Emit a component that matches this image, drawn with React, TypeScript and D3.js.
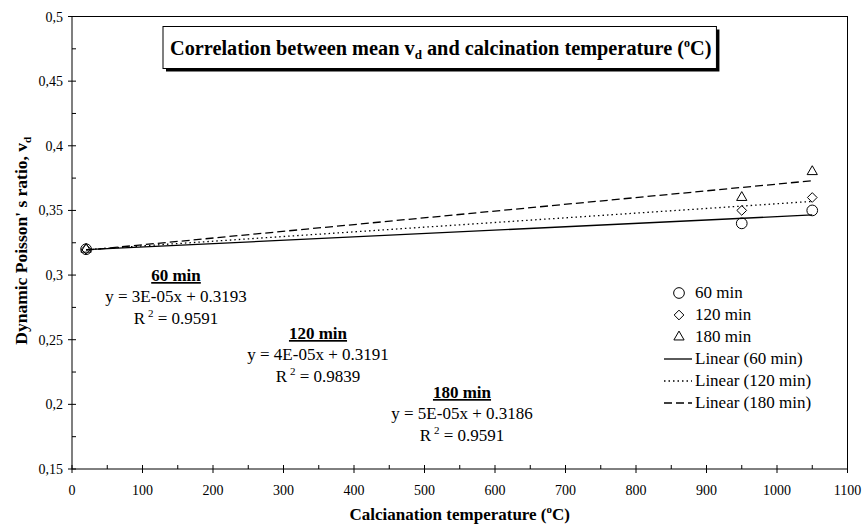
import React, { useEffect, useRef } from "react";
import * as d3 from "d3";

// data
const temperatures = [20, 950, 1050];
const values60 = [0.32, 0.34, 0.35];
const values120 = [0.32, 0.35, 0.36];
const values180 = [0.32, 0.36, 0.38];
const seriesNames = ["60 min", "120 min", "180 min"];
const equations = ["y = 3E-05x + 0.3193", "y = 4E-05x + 0.3191", "y = 5E-05x + 0.3186"];
const rSquared = ["0.9591", "0.9839", "0.9591"];
const xTickValues = [0, 100, 200, 300, 400, 500, 600, 700, 800, 900, 1000, 1100];
const yTickValues = [0.15, 0.2, 0.25, 0.3, 0.35, 0.4, 0.45, 0.5];
const yTickLabels = ["0,15", "0,2", "0,25", "0,3", "0,35", "0,4", "0,45", "0,5"];

const FONT = "Liberation Serif, Times New Roman, serif";

function linearFit(xs: number[], ys: number[]) {
  const mx = d3.mean(xs)!, my = d3.mean(ys)!;
  let sxy = 0, sxx = 0;
  xs.forEach((x, i) => { sxy += (x - mx) * (ys[i] - my); sxx += (x - mx) * (x - mx); });
  const slope = sxy / sxx;
  return { slope, intercept: my - slope * mx };
}

export default function App() {
  const ref = useRef<SVGSVGElement>(null);

  useEffect(() => {
    const svg = d3.select(ref.current);
    svg.selectAll("*").remove();

    const left = 72, right = 847.5, top = 16.5, bottom = 469;
    const x = d3.scaleLinear().domain([0, 1100]).range([left, right]);
    const y = d3.scaleLinear().domain([0.15, 0.5]).range([bottom, top]);

    // plot frame
    svg.append("rect")
      .attr("x", left).attr("y", top)
      .attr("width", right - left).attr("height", bottom - top)
      .attr("fill", "none").attr("stroke", "#000").attr("stroke-width", 1);

    // x ticks
    const minorX = d3.range(50, 1100, 100);
    svg.append("g").selectAll("line").data(xTickValues).enter().append("line")
      .attr("x1", (d) => x(d)).attr("x2", (d) => x(d))
      .attr("y1", bottom - 4).attr("y2", bottom + 4).attr("stroke", "#000");
    svg.append("g").selectAll("line").data(minorX).enter().append("line")
      .attr("x1", (d) => x(d)).attr("x2", (d) => x(d))
      .attr("y1", bottom - 4).attr("y2", bottom).attr("stroke", "#000");
    svg.append("g").selectAll("text").data(xTickValues).enter().append("text")
      .attr("x", (d) => x(d)).attr("y", 495)
      .attr("text-anchor", "middle")
      .style("font-family", FONT).style("font-size", "14px")
      .text((d) => String(d));

    // y ticks
    const minorY = [0.175, 0.225, 0.275, 0.325, 0.375, 0.425, 0.475];
    svg.append("g").selectAll("line").data(yTickValues).enter().append("line")
      .attr("x1", left - 4).attr("x2", left + 4)
      .attr("y1", (d) => y(d)).attr("y2", (d) => y(d)).attr("stroke", "#000");
    svg.append("g").selectAll("line").data(minorY).enter().append("line")
      .attr("x1", left).attr("x2", left + 4)
      .attr("y1", (d) => y(d)).attr("y2", (d) => y(d)).attr("stroke", "#000");
    svg.append("g").selectAll("text").data(yTickValues).enter().append("text")
      .attr("x", left - 9).attr("y", (d) => y(d) + 5)
      .attr("text-anchor", "end")
      .style("font-family", FONT).style("font-size", "14px")
      .text((d, i) => yTickLabels[i]);

    // axis titles
    const xl = svg.append("text")
      .attr("x", (left + right) / 2).attr("y", 520)
      .attr("text-anchor", "middle")
      .style("font-family", FONT).style("font-size", "17px").style("font-weight", "bold");
    xl.append("tspan").text("Calcianation temperature (");
    xl.append("tspan").attr("dy", -7).style("font-size", "11px").text("o");
    xl.append("tspan").attr("dy", 7).text("C)");

    const yl = svg.append("text")
      .attr("transform", `translate(27, ${(top + bottom) / 2 - 2}) rotate(-90)`)
      .attr("text-anchor", "middle")
      .style("font-family", FONT).style("font-size", "17.5px").style("font-weight", "bold");
    yl.append("tspan").text("Dynamic Poisson' s ratio, v");
    yl.append("tspan").attr("dy", 4).style("font-size", "11px").text("d");

    // trend lines
    const allSeries = [values60, values120, values180];
    const dashes = [null, "1.5 3", "8 4"];
    allSeries.forEach((vals, i) => {
      const fit = linearFit(temperatures, vals);
      const x0 = d3.min(temperatures)!, x1 = d3.max(temperatures)!;
      svg.append("line")
        .attr("x1", x(x0)).attr("y1", y(fit.intercept + fit.slope * x0))
        .attr("x2", x(x1)).attr("y2", y(fit.intercept + fit.slope * x1))
        .attr("stroke", "#000").attr("stroke-width", 1.3)
        .attr("stroke-dasharray", dashes[i]);
    });

    // markers
    const symbols = [d3.symbolCircle, d3.symbolDiamond2, d3.symbolTriangle2];
    const sizes = [90, 60, 75];
    allSeries.forEach((vals, i) => {
      svg.append("g").selectAll("path").data(vals).enter().append("path")
        .attr("d", d3.symbol().type(symbols[i]).size(sizes[i])())
        .attr("transform", (d, j) => `translate(${x(temperatures[j])}, ${y(d)})`)
        .attr("fill", "none").attr("stroke", "#000").attr("stroke-width", 1);
    });

    // regression annotations
    const annCenters = [176, 318, 462];
    const annTops = [281, 339, 398];
    seriesNames.forEach((name, i) => {
      const g = svg.append("g").style("font-family", FONT).style("font-size", "17px");
      g.append("text").attr("x", annCenters[i]).attr("y", annTops[i])
        .attr("text-anchor", "middle").style("font-weight", "bold")
        .style("text-decoration", "underline").text(name);
      g.append("text").attr("x", annCenters[i]).attr("y", annTops[i] + 21)
        .attr("text-anchor", "middle").text(equations[i]);
      const r = g.append("text").attr("x", annCenters[i]).attr("y", annTops[i] + 43)
        .attr("text-anchor", "middle");
      r.append("tspan").text("R");
      r.append("tspan").attr("dy", -7).style("font-size", "11px").text(" 2");
      r.append("tspan").attr("dy", 7).text(" = " + rSquared[i]);
    });

    // legend
    const legX = 679, lineX0 = 664, lineX1 = 692, textX = 695;
    const legendRows = [
      ...seriesNames.map((n, i) => ({ label: n, kind: "marker", idx: i })),
      ...seriesNames.map((n, i) => ({ label: `Linear (${n})`, kind: "line", idx: i })),
    ];
    legendRows.forEach((row, k) => {
      const base = 298 + k * 22;
      if (row.kind === "marker") {
        svg.append("path")
          .attr("d", d3.symbol().type(symbols[row.idx]).size(sizes[row.idx])())
          .attr("transform", `translate(${legX}, ${base - 5})`)
          .attr("fill", "none").attr("stroke", "#000");
      } else {
        svg.append("line")
          .attr("x1", lineX0).attr("x2", lineX1)
          .attr("y1", base - 5).attr("y2", base - 5)
          .attr("stroke", "#000").attr("stroke-width", 1.3)
          .attr("stroke-dasharray", dashes[row.idx]);
      }
      svg.append("text").attr("x", textX).attr("y", base)
        .style("font-family", FONT).style("font-size", "17px")
        .text(row.label);
    });

    // title box
    const title = svg.append("text")
      .attr("x", 170).attr("y", 55)
      .style("font-family", FONT).style("font-size", "20.3px").style("font-weight", "bold");
    title.append("tspan").text("Correlation between mean v");
    title.append("tspan").attr("dy", 4).style("font-size", "13px").text("d");
    title.append("tspan").attr("dy", -4).text(" and calcination temperature (");
    title.append("tspan").attr("dy", -8).style("font-size", "12px").text("o");
    title.append("tspan").attr("dy", 8).text("C)");
    const bb = (title.node() as SVGTextElement).getBBox();
    const bx = 163, bw = bb.x + bb.width + 5 - bx, byTop = 26.5, bh = 42;
    const titleNode = title.node() as Element;
    svg.insert("rect", () => titleNode)
      .attr("x", bx + 3).attr("y", byTop + 3).attr("width", bw).attr("height", bh)
      .attr("fill", "#000");
    svg.insert("rect", () => titleNode)
      .attr("x", bx).attr("y", byTop).attr("width", bw).attr("height", bh)
      .attr("fill", "#fff").attr("stroke", "#000");
  }, []);

  return (
    <div style={{ position: "fixed", left: 0, top: 0 }}>
      <svg ref={ref} width={865} height={527} style={{ background: "#fff", display: "block" }} />
    </div>
  );
}
